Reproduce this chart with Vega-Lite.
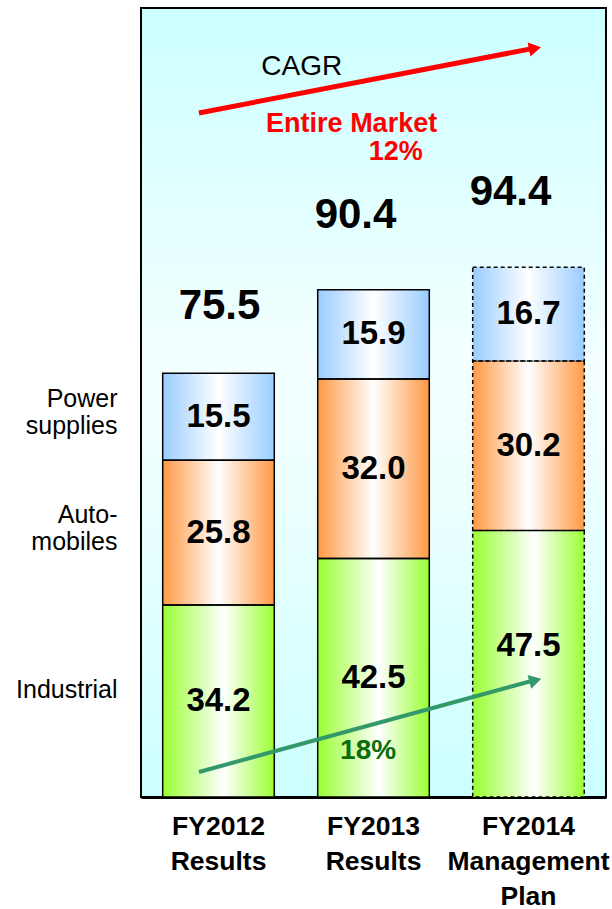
{
  "$schema": "https://vega.github.io/schema/vega-lite/v6.json",
  "width": 465,
  "height": 789,
  "autosize": {"type": "none"},
  "padding": {"left": 141, "top": 8, "right": 6, "bottom": 112},
  "background": "white",
  "config": {
    "font": "Liberation Sans",
    "view": {
      "fill": {
        "gradient": "linear",
        "x1": 0, "y1": 0, "x2": 0, "y2": 1,
        "stops": [
          {"offset": 0, "color": "#ccffff"},
          {"offset": 0.45, "color": "#f4ffff"},
          {"offset": 0.6, "color": "#eeffff"},
          {"offset": 1, "color": "#ccffff"}
        ]
      },
      "stroke": "black",
      "strokeWidth": 2
    }
  },
  "layer": [
    {
      "data": {
        "values": [
          {"year": "FY2012|Results", "segment": "Industrial", "order": 1, "value": 34.2},
          {"year": "FY2012|Results", "segment": "Auto-\nmobiles", "order": 2, "value": 25.8},
          {"year": "FY2012|Results", "segment": "Power\nsupplies", "order": 3, "value": 15.5},
          {"year": "FY2013|Results", "segment": "Industrial", "order": 1, "value": 42.5},
          {"year": "FY2013|Results", "segment": "Auto-\nmobiles", "order": 2, "value": 32.0},
          {"year": "FY2013|Results", "segment": "Power\nsupplies", "order": 3, "value": 15.9},
          {"year": "FY2014|Management|Plan", "segment": "Industrial", "order": 1, "value": 47.5},
          {"year": "FY2014|Management|Plan", "segment": "Auto-\nmobiles", "order": 2, "value": 30.2},
          {"year": "FY2014|Management|Plan", "segment": "Power\nsupplies", "order": 3, "value": 16.7}
        ]
      },
      "transform": [
        {"stack": "value", "groupby": ["year"], "sort": [{"field": "order", "order": "ascending"}], "as": ["v0", "v1"]},
        {"calculate": "(datum.v0 + datum.v1) / 2", "as": "mid"}
      ],
      "encoding": {
        "x": {
          "field": "year",
          "type": "nominal",
          "sort": null,
          "scale": {"paddingInner": 0.28, "paddingOuter": 0.14},
          "axis": {
            "title": null,
            "ticks": false,
            "domainColor": "black",
            "domainWidth": 3,
            "labelExpr": "split(datum.label, '|')",
            "labelAngle": 0,
            "labelFont": "Liberation Sans",
            "labelFontSize": 26.5,
            "labelFontWeight": "bold",
            "labelColor": "black",
            "labelLineHeight": 35,
            "labelPadding": 16,
            "labelBaseline": "top",
            "labelOverlap": false,
            "labelLimit": 400
          }
        }
      },
      "layer": [
        {
          "transform": [{"filter": "datum.order == 1"}],
          "mark": {
            "type": "bar",
            "color": {
              "gradient": "linear", "x1": 0, "y1": 0, "x2": 1, "y2": 0,
              "stops": [
                {"offset": 0, "color": "#99ff33"},
                {"offset": 0.55, "color": "#ffffff"},
                {"offset": 1, "color": "#99ff33"}
              ]
            }
          },
          "encoding": {
            "y": {"field": "v0", "type": "quantitative", "scale": {"domain": [0, 140.6], "nice": false}, "axis": null},
            "y2": {"field": "v1"}
          }
        },
        {
          "transform": [{"filter": "datum.order == 2"}],
          "mark": {
            "type": "bar",
            "color": {
              "gradient": "linear", "x1": 0, "y1": 0, "x2": 1, "y2": 0,
              "stops": [
                {"offset": 0, "color": "#ff9944"},
                {"offset": 0.5, "color": "#ffffff"},
                {"offset": 1, "color": "#ff9944"}
              ]
            }
          },
          "encoding": {
            "y": {"field": "v0", "type": "quantitative"},
            "y2": {"field": "v1"}
          }
        },
        {
          "transform": [{"filter": "datum.order == 3"}],
          "mark": {
            "type": "bar",
            "color": {
              "gradient": "linear", "x1": 0, "y1": 0, "x2": 1, "y2": 0,
              "stops": [
                {"offset": 0, "color": "#99ccff"},
                {"offset": 0.5, "color": "#ffffff"},
                {"offset": 1, "color": "#99ccff"}
              ]
            }
          },
          "encoding": {
            "y": {"field": "v0", "type": "quantitative"},
            "y2": {"field": "v1"}
          }
        },
        {
          "mark": {"type": "bar", "fillOpacity": 0, "stroke": "black", "strokeWidth": 1.5},
          "encoding": {
            "y": {"field": "v0", "type": "quantitative"},
            "y2": {"field": "v1"},
            "strokeDash": {
              "field": "year",
              "type": "nominal",
              "scale": {
                "domain": ["FY2012|Results", "FY2013|Results", "FY2014|Management|Plan"],
                "range": [[1, 0], [1, 0], [4, 3]]
              },
              "legend": null
            }
          }
        },
        {
          "transform": [{"filter": "!(datum.order == 1 && datum.year == 'FY2014|Management|Plan')"}],
          "mark": {"type": "text", "fontSize": 33, "fontWeight": "bold", "color": "black", "baseline": "middle"},
          "encoding": {
            "y": {"field": "mid", "type": "quantitative"},
            "text": {"field": "value", "type": "quantitative", "format": ".1f"}
          }
        },
        {
          "transform": [{"filter": "datum.order == 1 && datum.year == 'FY2014|Management|Plan'"}],
          "mark": {"type": "text", "fontSize": 33, "fontWeight": "bold", "color": "black", "baseline": "middle", "dy": -18},
          "encoding": {
            "y": {"field": "mid", "type": "quantitative"},
            "text": {"field": "value", "type": "quantitative", "format": ".1f"}
          }
        },
        {
          "transform": [
            {"aggregate": [{"op": "sum", "field": "value", "as": "total"}], "groupby": ["year"]},
            {"filter": "datum.year == 'FY2012|Results'"}
          ],
          "mark": {"type": "text", "fontSize": 42, "fontWeight": "bold", "color": "black", "baseline": "middle", "dy": -67, "dx": 1},
          "encoding": {
            "y": {"field": "total", "type": "quantitative"},
            "text": {"field": "total", "type": "quantitative", "format": ".1f"}
          }
        },
        {
          "transform": [
            {"aggregate": [{"op": "sum", "field": "value", "as": "total"}], "groupby": ["year"]},
            {"filter": "datum.year != 'FY2012|Results'"}
          ],
          "mark": {"type": "text", "fontSize": 42, "fontWeight": "bold", "color": "black", "baseline": "middle", "dy": -75, "dx": -18},
          "encoding": {
            "y": {"field": "total", "type": "quantitative"},
            "text": {"field": "total", "type": "quantitative", "format": ".1f"}
          }
        },
        {
          "transform": [{"filter": "datum.year == 'FY2012|Results' && datum.order == 1"}],
          "mark": {"type": "text", "align": "right", "baseline": "middle", "dx": -101, "dy": -11, "fontSize": 25, "color": "black"},
          "encoding": {
            "y": {"field": "mid", "type": "quantitative"},
            "text": {"field": "segment", "type": "nominal"}
          }
        },
        {
          "transform": [{"filter": "datum.year == 'FY2012|Results' && datum.order > 1"}],
          "mark": {"type": "text", "align": "right", "baseline": "middle", "dx": -101, "dy": -18, "fontSize": 25, "lineHeight": 27, "lineBreak": "\n", "color": "black"},
          "encoding": {
            "y": {"field": "mid", "type": "quantitative"},
            "text": {"field": "segment", "type": "nominal"}
          }
        }
      ]
    },
    {
      "data": {"values": [{}]},
      "layer": [
        {
          "mark": {"type": "rule", "color": "#ff0000", "strokeWidth": 5},
          "encoding": {
            "x": {"datum": 0.374, "type": "quantitative", "scale": {"domain": [0, 3], "nice": false, "zero": false}, "axis": null},
            "x2": {"datum": 2.55},
            "y": {"datum": 121.9, "type": "quantitative"},
            "y2": {"datum": 133.5}
          }
        },
        {
          "mark": {"type": "point", "shape": "triangle-right", "filled": true, "size": 200, "angle": -10.9, "color": "#ff0000", "opacity": 1, "strokeWidth": 0},
          "encoding": {
            "x": {"datum": 2.542, "type": "quantitative"},
            "y": {"datum": 133.4, "type": "quantitative"}
          }
        },
        {
          "mark": {"type": "rule", "color": "#33996b", "strokeWidth": 4},
          "encoding": {
            "x": {"datum": 0.374, "type": "quantitative"},
            "x2": {"datum": 2.55},
            "y": {"datum": 4.46, "type": "quantitative"},
            "y2": {"datum": 20.9}
          }
        },
        {
          "mark": {"type": "point", "shape": "triangle-right", "filled": true, "size": 200, "angle": -15.3, "color": "#33996b", "opacity": 1, "strokeWidth": 0},
          "encoding": {
            "x": {"datum": 2.544, "type": "quantitative"},
            "y": {"datum": 20.8, "type": "quantitative"}
          }
        },
        {
          "mark": {"type": "text", "text": "CAGR", "fontSize": 28, "color": "black", "baseline": "middle"},
          "encoding": {
            "x": {"datum": 1.037, "type": "quantitative"},
            "y": {"datum": 130.0, "type": "quantitative"}
          }
        },
        {
          "mark": {"type": "text", "text": "Entire Market", "fontSize": 27, "fontWeight": "bold", "color": "#ff0000", "baseline": "middle"},
          "encoding": {
            "x": {"datum": 1.359, "type": "quantitative"},
            "y": {"datum": 120.0, "type": "quantitative"}
          }
        },
        {
          "mark": {"type": "text", "text": "12%", "fontSize": 27, "fontWeight": "bold", "color": "#ff0000", "baseline": "middle"},
          "encoding": {
            "x": {"datum": 1.644, "type": "quantitative"},
            "y": {"datum": 115.0, "type": "quantitative"}
          }
        },
        {
          "mark": {"type": "text", "text": "18%", "fontSize": 28, "fontWeight": "bold", "color": "#0a6e0a", "baseline": "middle"},
          "encoding": {
            "x": {"datum": 1.465, "type": "quantitative"},
            "y": {"datum": 8.2, "type": "quantitative"}
          }
        }
      ]
    }
  ],
  "resolve": {"scale": {"x": "independent"}, "axis": {"x": "independent"}}
}
